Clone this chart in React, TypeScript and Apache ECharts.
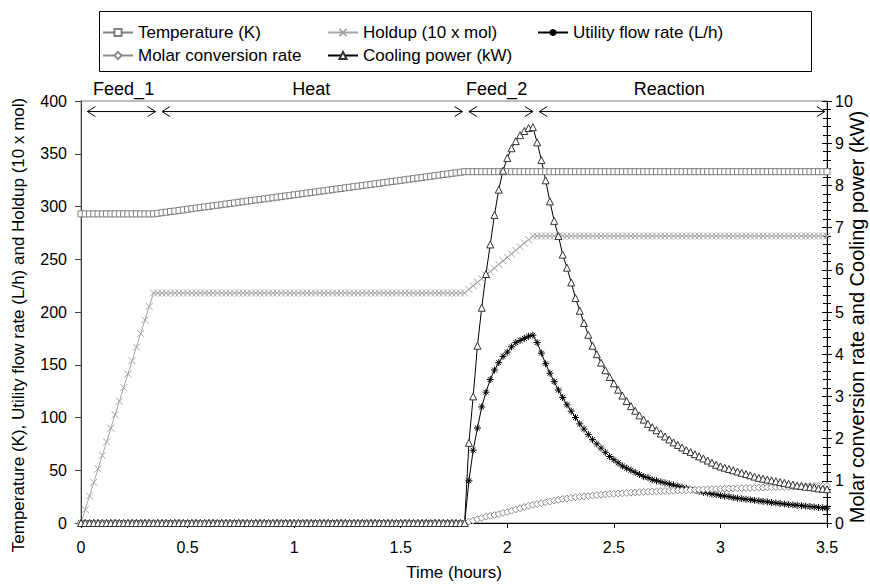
import React, { useEffect, useRef } from 'react';
import * as echarts from 'echarts';

// Time grid (hours)
const time = [
  0, 0.02, 0.04, 0.06, 0.08, 0.1, 0.12, 0.14, 0.16, 0.18,
  0.2, 0.22, 0.24, 0.26, 0.28, 0.3, 0.32, 0.34, 0.36, 0.38,
  0.4, 0.42, 0.44, 0.46, 0.48, 0.5, 0.52, 0.54, 0.56, 0.58,
  0.6, 0.62, 0.64, 0.66, 0.68, 0.7, 0.72, 0.74, 0.76, 0.78,
  0.8, 0.82, 0.84, 0.86, 0.88, 0.9, 0.92, 0.94, 0.96, 0.98,
  1, 1.02, 1.04, 1.06, 1.08, 1.1, 1.12, 1.14, 1.16, 1.18,
  1.2, 1.22, 1.24, 1.26, 1.28, 1.3, 1.32, 1.34, 1.36, 1.38,
  1.4, 1.42, 1.44, 1.46, 1.48, 1.5, 1.52, 1.54, 1.56, 1.58,
  1.6, 1.62, 1.64, 1.66, 1.68, 1.7, 1.72, 1.74, 1.76, 1.78,
  1.8, 1.82, 1.84, 1.86, 1.88, 1.9, 1.92, 1.94, 1.96, 1.98,
  2, 2.02, 2.04, 2.06, 2.08, 2.1, 2.12, 2.14, 2.16, 2.18,
  2.2, 2.22, 2.24, 2.26, 2.28, 2.3, 2.32, 2.34, 2.36, 2.38,
  2.4, 2.42, 2.44, 2.46, 2.48, 2.5, 2.52, 2.54, 2.56, 2.58,
  2.6, 2.62, 2.64, 2.66, 2.68, 2.7, 2.72, 2.74, 2.76, 2.78,
  2.8, 2.82, 2.84, 2.86, 2.88, 2.9, 2.92, 2.94, 2.96, 2.98,
  3, 3.02, 3.04, 3.06, 3.08, 3.1, 3.12, 3.14, 3.16, 3.18,
  3.2, 3.22, 3.24, 3.26, 3.28, 3.3, 3.32, 3.34, 3.36, 3.38,
  3.4, 3.42, 3.44, 3.46, 3.48, 3.5,
];

// Temperature (K) - left axis
const temperature = [
  293, 293, 293, 293, 293, 293, 293, 293, 293, 293,
  293, 293, 293, 293, 293, 293, 293, 293, 293.5, 294.1,
  294.6, 295.2, 295.7, 296.3, 296.8, 297.4, 297.9, 298.5, 299.0, 299.6,
  300.1, 300.7, 301.2, 301.8, 302.3, 302.9, 303.4, 304.0, 304.5, 305.1,
  305.6, 306.2, 306.7, 307.2, 307.8, 308.3, 308.9, 309.4, 310.0, 310.5,
  311.1, 311.6, 312.2, 312.7, 313.3, 313.8, 314.4, 314.9, 315.5, 316.0,
  316.6, 317.1, 317.7, 318.2, 318.8, 319.3, 319.8, 320.4, 320.9, 321.5,
  322.0, 322.6, 323.1, 323.7, 324.2, 324.8, 325.3, 325.9, 326.4, 327.0,
  327.5, 328.1, 328.6, 329.2, 329.7, 330.3, 330.8, 331.4, 331.9, 332.5,
  333, 333, 333, 333, 333, 333, 333, 333, 333, 333,
  333, 333, 333, 333, 333, 333, 333, 333, 333, 333,
  333, 333, 333, 333, 333, 333, 333, 333, 333, 333,
  333, 333, 333, 333, 333, 333, 333, 333, 333, 333,
  333, 333, 333, 333, 333, 333, 333, 333, 333, 333,
  333, 333, 333, 333, 333, 333, 333, 333, 333, 333,
  333, 333, 333, 333, 333, 333, 333, 333, 333, 333,
  333, 333, 333, 333, 333, 333, 333, 333, 333, 333,
  333, 333, 333, 333, 333, 333,
];

// Holdup (10 x mol) - left axis
const holdup = [
  0, 12.8, 25.6, 38.5, 51.3, 64.1, 76.9, 89.8, 102.6, 115.4,
  128.2, 141.1, 153.9, 166.7, 179.5, 192.4, 205.2, 218, 218, 218,
  218, 218, 218, 218, 218, 218, 218, 218, 218, 218,
  218, 218, 218, 218, 218, 218, 218, 218, 218, 218,
  218, 218, 218, 218, 218, 218, 218, 218, 218, 218,
  218, 218, 218, 218, 218, 218, 218, 218, 218, 218,
  218, 218, 218, 218, 218, 218, 218, 218, 218, 218,
  218, 218, 218, 218, 218, 218, 218, 218, 218, 218,
  218, 218, 218, 218, 218, 218, 218, 218, 218, 218,
  218, 221.4, 224.8, 228.1, 231.5, 234.9, 238.3, 241.6, 245.0, 248.4,
  251.8, 255.1, 258.5, 261.9, 265.3, 268.6, 272, 272, 272, 272,
  272, 272, 272, 272, 272, 272, 272, 272, 272, 272,
  272, 272, 272, 272, 272, 272, 272, 272, 272, 272,
  272, 272, 272, 272, 272, 272, 272, 272, 272, 272,
  272, 272, 272, 272, 272, 272, 272, 272, 272, 272,
  272, 272, 272, 272, 272, 272, 272, 272, 272, 272,
  272, 272, 272, 272, 272, 272, 272, 272, 272, 272,
  272, 272, 272, 272, 272, 272,
];

// Utility flow rate (L/h) - left axis
const utility = [
  0, 0, 0, 0, 0, 0, 0, 0, 0, 0,
  0, 0, 0, 0, 0, 0, 0, 0, 0, 0,
  0, 0, 0, 0, 0, 0, 0, 0, 0, 0,
  0, 0, 0, 0, 0, 0, 0, 0, 0, 0,
  0, 0, 0, 0, 0, 0, 0, 0, 0, 0,
  0, 0, 0, 0, 0, 0, 0, 0, 0, 0,
  0, 0, 0, 0, 0, 0, 0, 0, 0, 0,
  0, 0, 0, 0, 0, 0, 0, 0, 0, 0,
  0, 0, 0, 0, 0, 0, 0, 0, 0, 0,
  0, 40, 69, 90, 110, 124, 136, 145, 152, 158,
  162, 167, 171, 173, 175, 177, 178, 171, 161, 151,
  142, 134, 126, 119, 112, 106, 100, 94, 89, 84,
  79, 75, 71, 67, 63, 60, 57, 54, 52, 50,
  48, 46, 44, 43, 41, 40, 39, 38, 37, 36,
  35, 34, 33, 32, 31, 30, 29, 28.5, 27.5, 27,
  26, 25.5, 25, 24, 23.5, 23, 22.5, 22, 21.5, 21,
  20.5, 20, 19.5, 19, 18.5, 18, 17.6, 17.2, 16.8, 16.4,
  16, 15.6, 15.2, 14.8, 14.4, 14,
];

// Molar conversion rate - right axis
const conversion = [
  0, 0, 0, 0, 0, 0, 0, 0, 0, 0,
  0, 0, 0, 0, 0, 0, 0, 0, 0, 0,
  0, 0, 0, 0, 0, 0, 0, 0, 0, 0,
  0, 0, 0, 0, 0, 0, 0, 0, 0, 0,
  0, 0, 0, 0, 0, 0, 0, 0, 0, 0,
  0, 0, 0, 0, 0, 0, 0, 0, 0, 0,
  0, 0, 0, 0, 0, 0, 0, 0, 0, 0,
  0, 0, 0, 0, 0, 0, 0, 0, 0, 0,
  0, 0, 0, 0, 0, 0, 0, 0, 0, 0,
  0, 0.03, 0.06, 0.09, 0.12, 0.15, 0.17, 0.19, 0.21, 0.24,
  0.26, 0.29, 0.32, 0.35, 0.38, 0.41, 0.43, 0.45, 0.47, 0.49,
  0.51, 0.53, 0.55, 0.57, 0.58, 0.6, 0.61, 0.62, 0.63, 0.64,
  0.65, 0.66, 0.67, 0.68, 0.685, 0.69, 0.7, 0.705, 0.71, 0.72,
  0.725, 0.73, 0.735, 0.74, 0.745, 0.75, 0.754, 0.758, 0.762, 0.766,
  0.77, 0.774, 0.778, 0.782, 0.786, 0.79, 0.794, 0.798, 0.802, 0.806,
  0.81, 0.813, 0.816, 0.819, 0.822, 0.825, 0.828, 0.831, 0.834, 0.837,
  0.84, 0.843, 0.846, 0.849, 0.852, 0.855, 0.858, 0.861, 0.864, 0.867,
  0.87, 0.872, 0.874, 0.876, 0.878, 0.88,
];

// Cooling power (kW) - right axis
const cooling = [
  0, 0, 0, 0, 0, 0, 0, 0, 0, 0,
  0, 0, 0, 0, 0, 0, 0, 0, 0, 0,
  0, 0, 0, 0, 0, 0, 0, 0, 0, 0,
  0, 0, 0, 0, 0, 0, 0, 0, 0, 0,
  0, 0, 0, 0, 0, 0, 0, 0, 0, 0,
  0, 0, 0, 0, 0, 0, 0, 0, 0, 0,
  0, 0, 0, 0, 0, 0, 0, 0, 0, 0,
  0, 0, 0, 0, 0, 0, 0, 0, 0, 0,
  0, 0, 0, 0, 0, 0, 0, 0, 0, 0,
  0, 1.9, 3.0, 4.2, 5.1, 5.9, 6.6, 7.3, 7.9, 8.35,
  8.65, 8.88, 9.05, 9.19, 9.29, 9.36, 9.38, 9.02, 8.6, 8.12,
  7.62, 7.16, 6.8, 6.36, 6.05, 5.7, 5.33, 5.03, 4.74, 4.46,
  4.2, 4.0, 3.8, 3.62, 3.46, 3.31, 3.16, 3.02, 2.89, 2.77,
  2.66, 2.55, 2.45, 2.35, 2.27, 2.2, 2.12, 2.05, 1.98, 1.91,
  1.85, 1.79, 1.73, 1.68, 1.63, 1.58, 1.53, 1.48, 1.43, 1.38,
  1.34, 1.31, 1.28, 1.25, 1.22, 1.19, 1.16, 1.13, 1.1, 1.07,
  1.05, 1.03, 1.01, 0.99, 0.97, 0.95, 0.93, 0.91, 0.89, 0.88,
  0.86, 0.85, 0.84, 0.82, 0.81, 0.8,
];

// Process phases (hours)
const phaseNames = ['Feed_1', 'Heat', 'Feed_2', 'Reaction'];
const phaseStart = [0.03, 0.38, 1.82, 2.15];
const phaseEnd = [0.35, 1.79, 2.12, 3.49];
const phaseLabelAt = [0.2, 1.08, 1.95, 2.76];
const phaseArrowLevel = 390;

const FONT = '"Liberation Sans", Arial, sans-serif';

export default function App() {
  const ref = useRef<HTMLDivElement>(null);

  useEffect(() => {
    document.body.style.margin = '0';
    const chart = echarts.init(ref.current as HTMLDivElement, undefined, { renderer: 'svg' });
    const pair = (ys: number[]) => time.map((t, i) => [t, ys[i]]);
    const txt = { fontSize: 16, color: '#000', fontFamily: FONT };

    const legendBase = {
      itemWidth: 30,
      itemHeight: 9,
      padding: 5,
      selectedMode: false,
      textStyle: { ...txt, fontSize: 17 },
    };

    const option: any = {
      animation: false,
      backgroundColor: '#fff',
      textStyle: { fontFamily: FONT },
      grid: {
        left: 81,
        right: 43,
        top: 101,
        bottom: 61,
        show: true,
        borderColor: '#808080',
        borderWidth: 1,
        containLabel: false,
        outerBoundsMode: 'none',
      },
      graphic: [
        {
          type: 'rect',
          shape: { x: 99.5, y: 11.5, width: 712, height: 60 },
          style: { stroke: '#000', fill: 'none', lineWidth: 1 },
          silent: true,
          z: 0,
        },
        {
          type: 'text',
          x: 18,
          y: 325,
          rotation: Math.PI / 2,
          silent: true,
          style: {
            text: 'Temperature (K), Utility flow rate (L/h) and Holdup (10 x mol)',
            fontSize: 17,
            fontFamily: FONT,
            fill: '#000',
            align: 'center',
            verticalAlign: 'middle',
          },
        },
        {
          type: 'text',
          x: 857,
          y: 317,
          rotation: Math.PI / 2,
          silent: true,
          style: {
            text: 'Molar conversion rate and Cooling power (kW)',
            fontSize: 20,
            fontFamily: FONT,
            fill: '#000',
            align: 'center',
            verticalAlign: 'middle',
          },
        },
      ],
      legend: [
        { ...legendBase, data: ['Temperature (K)'], left: 97, top: 19 },
        { ...legendBase, data: ['Holdup (10 x mol)'], left: 322, top: 19 },
        { ...legendBase, data: ['Utility flow rate (L/h)'], left: 532, top: 19 },
        { ...legendBase, data: ['Molar conversion rate'], left: 97, top: 42 },
        { ...legendBase, data: ['Cooling power (kW)'], left: 322, top: 42 },
      ],
      xAxis: {
        type: 'value',
        min: 0,
        max: 3.5,
        interval: 0.5,
        axisLine: { show: true, lineStyle: { color: '#000' } },
        axisTick: { show: true, length: 5, lineStyle: { color: '#000' } },
        axisLabel: { ...txt, margin: 16 },
        splitLine: { show: false },
        name: 'Time (hours)',
        nameLocation: 'middle',
        nameGap: 41,
        nameTextStyle: { ...txt, fontSize: 17 },
      },
      yAxis: [
        {
          type: 'value',
          position: 'left',
          min: 0,
          max: 400,
          interval: 50,
          axisLine: { show: true, lineStyle: { color: '#404040' } },
          axisTick: { show: true, length: 6, lineStyle: { color: '#404040' } },
          axisLabel: { ...txt, margin: 14 },
          splitLine: { show: false },
        },
        {
          type: 'value',
          position: 'right',
          min: 0,
          max: 10,
          interval: 1,
          axisLine: { show: true, lineStyle: { color: '#000' } },
          axisTick: { show: true, length: 5, lineStyle: { color: '#000' } },
          minorTick: { show: true, splitNumber: 5, length: 4, lineStyle: { color: '#000' } },
          axisLabel: { ...txt, margin: 8 },
          splitLine: { show: false },
          minorSplitLine: { show: false },
        },
        {
          type: 'value',
          position: 'right',
          min: 0,
          max: 10,
          interval: 1,
          axisLine: { show: false },
          axisTick: { show: true, inside: true, length: 5, lineStyle: { color: '#000' } },
          minorTick: { show: true, splitNumber: 5, length: 4, lineStyle: { color: '#000' } },
          axisLabel: { show: false },
          splitLine: { show: false },
          minorSplitLine: { show: false },
        },
      ],
      series: [
        {
          name: 'Temperature (K)',
          type: 'line',
          yAxisIndex: 0,
          data: pair(temperature),
          symbol: 'rect',
          symbolSize: 6,
          showAllSymbol: true,
          lineStyle: { color: '#808080', width: 1 },
          itemStyle: { color: '#fff', borderColor: '#808080', borderWidth: 1 },
          emphasis: { disabled: true },
        },
        {
          name: 'Holdup (10 x mol)',
          type: 'line',
          yAxisIndex: 0,
          data: pair(holdup),
          symbol: 'path://M0,0L10,10M10,0L0,10',
          symbolSize: 7,
          showAllSymbol: true,
          lineStyle: { color: '#a6a6a6', width: 1 },
          itemStyle: { color: '#a6a6a6', borderColor: '#a6a6a6', borderWidth: 1 },
          emphasis: { disabled: true },
        },
        {
          name: 'Utility flow rate (L/h)',
          type: 'line',
          yAxisIndex: 0,
          data: pair(utility),
          symbol: 'path://M0,5L10,5M5,0L5,10M1.5,1.5L8.5,8.5M8.5,1.5L1.5,8.5',
          symbolSize: 7,
          showAllSymbol: true,
          lineStyle: { color: '#000', width: 1 },
          itemStyle: { color: '#000', borderColor: '#000', borderWidth: 1 },
          emphasis: { disabled: true },
        },
        {
          name: 'Molar conversion rate',
          type: 'line',
          yAxisIndex: 1,
          data: pair(conversion),
          symbol: 'diamond',
          symbolSize: 7,
          showAllSymbol: true,
          lineStyle: { color: '#8c8c8c', width: 1 },
          itemStyle: { color: '#fff', borderColor: '#8c8c8c', borderWidth: 1 },
          emphasis: { disabled: true },
        },
        {
          name: 'Cooling power (kW)',
          type: 'line',
          yAxisIndex: 1,
          data: pair(cooling),
          symbol: 'triangle',
          symbolSize: 7,
          showAllSymbol: true,
          lineStyle: { color: '#000', width: 1 },
          itemStyle: { color: '#fff', borderColor: '#333', borderWidth: 1 },
          emphasis: { disabled: true },
        },
        {
          type: 'custom',
          xAxisIndex: 0,
          yAxisIndex: 0,
          clip: false,
          silent: true,
          z: 10,
          data: phaseStart.map((s, i) => [s, phaseEnd[i], phaseLabelAt[i], phaseArrowLevel]),
          encode: { x: [0, 1, 2], y: 3 },
          renderItem: (params: any, api: any) => {
            const lvl = api.value(3);
            const a = api.coord([api.value(0), lvl]);
            const b = api.coord([api.value(1), lvl]);
            const c = api.coord([api.value(2), lvl]);
            const h = 8;
            const w = 5;
            const st = { stroke: '#000', fill: null, lineWidth: 1 };
            return {
              type: 'group',
              children: [
                { type: 'line', shape: { x1: a[0], y1: a[1], x2: b[0], y2: b[1] }, style: st },
                {
                  type: 'polyline',
                  shape: { points: [[a[0] + h, a[1] - w], [a[0], a[1]], [a[0] + h, a[1] + w]] },
                  style: st,
                },
                {
                  type: 'polyline',
                  shape: { points: [[b[0] - h, b[1] - w], [b[0], b[1]], [b[0] - h, b[1] + w]] },
                  style: st,
                },
                {
                  type: 'text',
                  style: {
                    text: phaseNames[params.dataIndex],
                    x: c[0],
                    y: a[1] - 23,
                    align: 'center',
                    verticalAlign: 'middle',
                    fontSize: 18,
                    fontFamily: FONT,
                    fill: '#000',
                  },
                },
              ],
            };
          },
        },
      ],
    };

    chart.setOption(option);
    return () => chart.dispose();
  }, []);

  return <div ref={ref} style={{ width: 870, height: 584 }} />;
}
